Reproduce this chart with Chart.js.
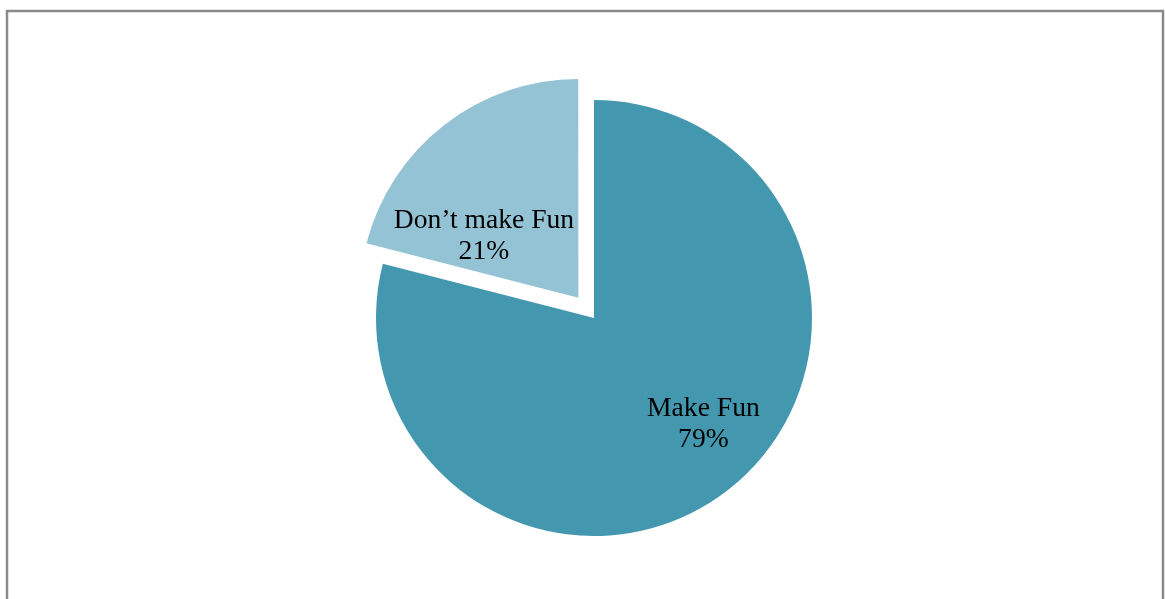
<!DOCTYPE html>
<html>
<head>
<meta charset="utf-8">
<script src="https://cdn.jsdelivr.net/npm/chart.js@4/dist/chart.umd.min.js"></script>
<style>
  html, body { margin: 0; padding: 0; background: #fff; }
  #wrap { width: 1165px; height: 599px; position: relative; }
</style>
</head>
<body>
<div id="wrap"><canvas id="pie" width="1165" height="599"></canvas></div>
<script>
// Survey answers
const categories = ['Make Fun', 'Don\u2019t make Fun'];
const shares = [79, 21];
const percentLabels = ['79%', '21%'];

const sliceColors = ['#4398AF', '#93C3D4'];
const sliceOffsets = [0, 102];
// label placement: angle clockwise from 12 o'clock (deg) and fraction of radius
const labelAngles = [134.2, 306.7];
const labelRadius = [0.70, 0.63];

const framePlugin = {
  id: 'frame',
  beforeDraw(chart) {
    const ctx = chart.ctx;
    ctx.save();
    ctx.fillStyle = '#fff';
    ctx.fillRect(0, 0, chart.width, chart.height);
    ctx.strokeStyle = '#8a8a8a';
    ctx.lineWidth = 2.5;
    ctx.beginPath();
    ctx.moveTo(7, chart.height + 2);
    ctx.lineTo(7, 11);
    ctx.lineTo(1163, 11);
    ctx.lineTo(1163, chart.height + 2);
    ctx.stroke();
    ctx.restore();
  }
};

const sliceLabelPlugin = {
  id: 'sliceLabels',
  afterDatasetsDraw(chart) {
    const ctx = chart.ctx;
    const meta = chart.getDatasetMeta(0);
    ctx.save();
    ctx.fillStyle = '#000';
    ctx.font = '27.6px "Liberation Serif", "Times New Roman", serif';
    ctx.textAlign = 'center';
    ctx.textBaseline = 'middle';
    meta.data.forEach((arc, i) => {
      const a = labelAngles[i] * Math.PI / 180;
      const d = arc.outerRadius * labelRadius[i];
      const cx = arc.x + Math.sin(a) * d;
      const cy = arc.y - Math.cos(a) * d;
      ctx.fillText(categories[i], cx, cy - 15.5);
      ctx.fillText(percentLabels[i], cx, cy + 15.5);
    });
    ctx.restore();
  }
};

new Chart(document.getElementById('pie'), {
  type: 'pie',
  data: {
    labels: categories,
    datasets: [{
      data: shares,
      backgroundColor: sliceColors,
      borderWidth: 0,
      offset: sliceOffsets
    }]
  },
  options: {
    responsive: false,
    animation: false,
    radius: 218,
    layout: { padding: { left: 23, right: 0, top: 37, bottom: 0 } },
    plugins: {
      legend: { display: false },
      tooltip: { enabled: false }
    }
  },
  plugins: [framePlugin, sliceLabelPlugin]
});
</script>
</body>
</html>
